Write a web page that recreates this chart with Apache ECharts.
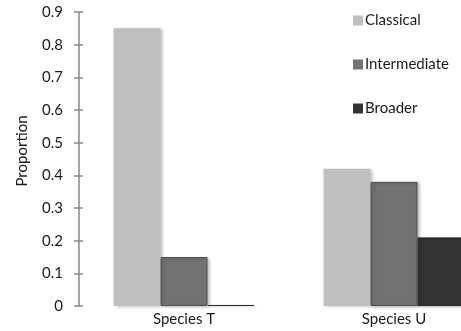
<!DOCTYPE html>
<html><head><meta charset="utf-8">
<script src="https://cdn.jsdelivr.net/npm/echarts@6/dist/echarts.min.js"></script>
<style>html,body{margin:0;padding:0;background:#fff}#c{width:461px;height:331px}</style>
</head><body><div id="c"></div>
<script>
const categories = ["Species T", "Species U"];
const seriesNames = ["Classical", "Intermediate", "Broader"];
const classical = [0.85, 0.42];
const intermediate = [0.15, 0.38];
const broader = [0.003, 0.21];
const yTicks = [0, 0.1, 0.2, 0.3, 0.4, 0.5, 0.6, 0.7, 0.8, 0.9];

const font = 'Lato, "Open Sans", sans-serif';
const colors = ['#bfbfbf', '#727272', '#333333'];
const borders = ['#bfbfbf', '#505050', '#2a2a2a'];
const values = [classical, intermediate, broader];

const chart = echarts.init(document.getElementById('c'), null, {renderer: 'canvas'});
chart.setOption({
  animation: false,
  textStyle: {fontFamily: font},
  grid: {left: 79, top: 12, height: 294, width: 420, containLabel: false, outerBoundsMode: 'none'},
  legend: {
    orient: 'vertical', left: 348, top: 8,
    itemWidth: 10, itemHeight: 10, itemGap: 29,
    textStyle: {fontFamily: font, fontSize: 15, color: '#1a1a1a', padding: [0,0,0,-3]},
    data: seriesNames.map((n, i) => ({name: n, icon: 'rect', itemStyle: {color: colors[i], borderWidth: 0}}))
  },
  graphic: [{
    type: 'text', x: 22, y: 151, rotation: Math.PI / 2,
    style: {text: 'Proportion', font: '15px ' + font, fill: '#1a1a1a', align: 'center', verticalAlign: 'middle'}
  }],
  xAxis: {
    type: 'category', data: categories,
    axisLine: {show: false}, axisTick: {show: false},
    axisLabel: {fontFamily: font, fontSize: 15, color: '#1a1a1a', margin: 6}
  },
  yAxis: [{
    type: 'value', min: 0, max: 0.9, interval: 0.1,
    axisLine: {show: true, lineStyle: {color: '#888', width: 1.5}},
    axisTick: {show: true, length: 5, lineStyle: {color: '#888', width: 1.5}},
    splitLine: {show: false},
    axisLabel: {fontFamily: font, fontSize: 15, color: '#1a1a1a', margin: 16,
      formatter: v => { const t = yTicks.find(x => Math.abs(x - v) < 1e-9); return t === undefined ? '' : String(t); }}
  }, {
    type: 'value', min: 0, max: 0.9, interval: 0.1, position: 'left', offset: 0,
    axisLine: {show: false},
    axisTick: {show: true, inside: true, length: 4, lineStyle: {color: '#888', width: 1.5}},
    axisLabel: {show: false}, splitLine: {show: false}
  }],
  series: seriesNames.map((n, i) => ({
    name: n, type: 'bar', data: values[i], barWidth: 47, barGap: '0%',
    itemStyle: {color: colors[i], borderColor: borders[i], borderWidth: i === 0 ? 0 : 1,
      shadowBlur: 3, shadowOffsetX: 2, shadowOffsetY: 1, shadowColor: 'rgba(0,0,0,0.25)'}
  }))
});
</script></body></html>
